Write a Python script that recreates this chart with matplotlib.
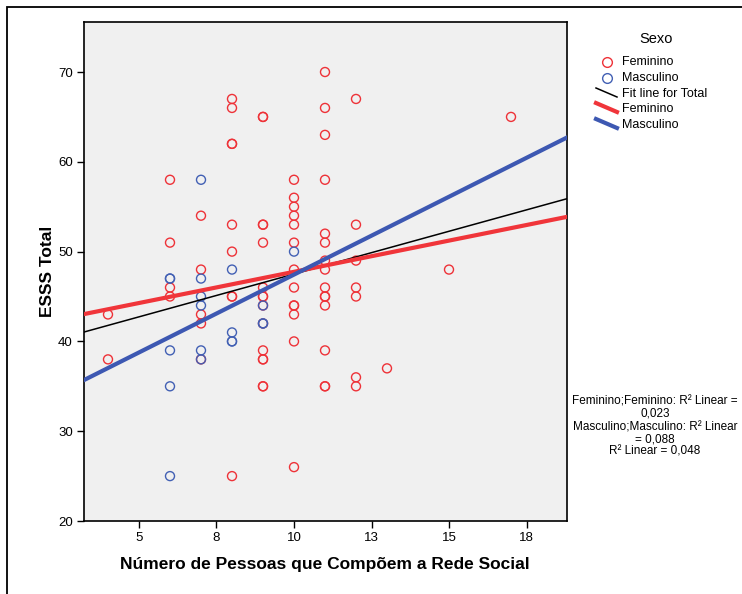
import matplotlib
matplotlib.use("Agg")
import matplotlib.pyplot as plt
from matplotlib.lines import Line2D
from matplotlib.patches import Rectangle
import numpy as np

plt.rcParams['font.family'] = ['Liberation Sans', 'DejaVu Sans']

# Feminino points (x = network size, y = ESSS total)
fem_x = [4, 4,
         6, 6, 6, 6,
         7, 7, 7, 7, 7,
         8, 8, 8, 8, 8, 8, 8, 8, 8,
         9, 9, 9, 9, 9, 9, 9, 9, 9, 9, 9, 9, 9, 9, 9,
         10, 10, 10, 10, 10, 10, 10, 10, 10, 10, 10, 10, 10,
         11, 11, 11, 11, 11, 11, 11, 11, 11, 11, 11, 11, 11, 11, 11,
         12, 12, 12, 12, 12, 12, 12,
         13, 15, 17]
fem_y = [43, 38,
         58, 51, 46, 45,
         54, 48, 43, 42, 38,
         67, 66, 62, 62, 53, 50, 45, 45, 25,
         65, 65, 53, 53, 51, 46, 45, 45, 44, 42, 39, 38, 38, 35, 35,
         58, 56, 55, 54, 53, 51, 48, 46, 44, 44, 43, 40, 26,
         70, 66, 63, 58, 52, 51, 49, 48, 46, 45, 45, 44, 39, 35, 35,
         67, 53, 49, 46, 45, 36, 35,
         37, 48, 65]

# Masculino points
masc_x = [6, 6, 6, 6, 6,
          7, 7, 7, 7, 7, 7,
          8, 8, 8, 8,
          9, 9, 9,
          10]
masc_y = [47, 47, 39, 35, 25,
          58, 47, 45, 44, 39, 38,
          48, 41, 40, 40,
          44, 42, 42,
          50]

# fit lines (intercept, slope)
fit_total = (37.97, 0.953)
fit_fem = (40.8, 0.695)
fit_masc = (30.1, 1.734)

r2_text = ["Feminino;Feminino: R² Linear =", "0,023",
           "Masculino;Masculino: R² Linear", "= 0,088",
           "R² Linear = 0,048"]

xticks = [5, 7.5, 10, 12.5, 15, 17.5]
xtick_labels = ["5", "8", "10", "13", "15", "18"]
yticks = [20, 30, 40, 50, 60, 70]

red = '#EE3238'
blue = '#4260B4'
red_line = '#F0353A'
blue_line = '#3D58B2'

fig = plt.figure(figsize=(7.42, 5.94), dpi=100)
ax = fig.add_axes([84 / 742, 1 - 521 / 594, (566.5 - 84) / 742, (521 - 22) / 594])
ax.set_facecolor('#F0F0F0')

xmin, xmax = 3.226, 18.79
ax.set_xlim(xmin, xmax)
ax.set_ylim(20, 75.57)

ax.scatter(fem_x, fem_y, s=42, facecolors='none', edgecolors=red, linewidths=1.0, zorder=3)
ax.scatter(masc_x, masc_y, s=42, facecolors='none', edgecolors=blue, linewidths=1.0, zorder=3)

xs = np.array([xmin, xmax])
ax.plot(xs, fit_total[0] + fit_total[1] * xs, color='black', lw=1.1, zorder=4)
ax.plot(xs, fit_fem[0] + fit_fem[1] * xs, color=red_line, lw=3.0, zorder=4)
ax.plot(xs, fit_masc[0] + fit_masc[1] * xs, color=blue_line, lw=3.0, zorder=5)

ax.set_xticks(xticks)
ax.set_xticklabels(xtick_labels)
ax.set_yticks(yticks)
ax.tick_params(direction='out', length=5, width=1, labelsize=9.5, pad=3)
for s in ax.spines.values():
    s.set_linewidth(1.2)

ax.set_xlabel("Número de Pessoas que Compõem a Rede Social", fontsize=12.5,
              fontweight='bold', labelpad=9)
ax.set_ylabel("ESSS Total", fontsize=12.5, fontweight='bold', labelpad=2)

# outer frame
fig.add_artist(Rectangle((7 / 742, -0.1), 1.2, 1 - 6.5 / 594 + 0.1, transform=fig.transFigure,
                         fill=False, edgecolor='black', lw=1.3))

# legend drawn by hand
def fx(px):
    return px / 742

def fy(py):
    return 1 - py / 594

fig.text(fx(656), fy(39), "Sexo", fontsize=10.5, ha='center', va='center')
rows = [62, 78, 94, 109, 125]
labels = ["Feminino", "Masculino", "Fit line for Total", "Feminino", "Masculino"]
fig.add_artist(Line2D([fx(607)], [fy(rows[0])], marker='o', ms=7, mfc='none', mec=red,
                      mew=1.0, transform=fig.transFigure))
fig.add_artist(Line2D([fx(607)], [fy(rows[1])], marker='o', ms=7, mfc='none', mec=blue,
                      mew=1.0, transform=fig.transFigure))
for r, c, w in zip(rows[2:], ['black', red_line, blue_line], [1.1, 3.0, 3.0]):
    fig.add_artist(Line2D([fx(596), fx(617)], [fy(r - 6), fy(r + 3)], color=c, lw=w,
                          transform=fig.transFigure))
for r, lab in zip(rows, labels):
    fig.text(fx(622), fy(r), lab, fontsize=9, ha='left', va='center')

r2_y = [402, 414, 427, 440, 451]
for t, yy in zip(r2_text, r2_y):
    fig.text(fx(655), fy(yy), t, fontsize=8.5, ha='center', va='center')

fig.savefig("out.png", dpi=100)
